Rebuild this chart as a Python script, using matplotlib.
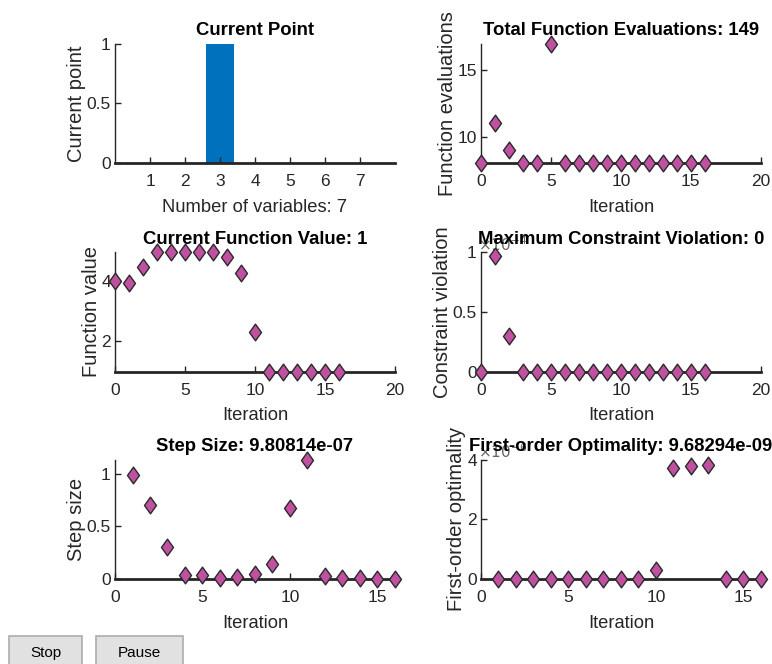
import matplotlib
matplotlib.use("Agg")
import matplotlib.pyplot as plt
import numpy as np
from matplotlib.path import Path
from matplotlib.patches import Rectangle

plt.rcParams['font.family'] = ['Liberation Sans', 'DejaVu Sans']

# current point (7 variables)
var_idx = [1, 2, 3, 4, 5, 6, 7]
current_point = [0, 0, 1, 0, 0, 0, 0]

# function evaluations per iteration
iters = list(range(0, 17))
fevals = [8, 11, 9, 8, 8, 17, 8, 8, 8, 8, 8, 8, 8, 8, 8, 8, 8]

# function value per iteration
fvals = [4.0, 3.94, 4.44, 4.94, 4.94, 4.94, 4.94, 4.94, 4.8, 4.27, 2.29,
         1, 1, 1, 1, 1, 1]

# max constraint violation
constr = [0, 0.972e-4, 0.296e-4, 0, 0, 0, 0, 0, 0, 0, 0, 0, 0, 0, 0, 0, 0]

# step size (from iteration 1)
step_iters = list(range(1, 17))
steps = [0.987, 0.70, 0.307, 0.038, 0.038, 0.006, 0.016, 0.044, 0.142,
         0.671, 1.13, 0.032, 0.013, 0.006, 0.001, 9.80814e-07]

# first-order optimality (from iteration 1)
opt_iters = list(range(1, 17))
optim = [0, 0, 0, 0, 0, 0, 0, 0, 0, 0.30e-6, 3.74e-6, 3.78e-6, 3.83e-6,
         0, 0, 9.68294e-09]

dark = '#262626'
pink = '#C050A0'
diamond = Path([(0, 1), (0.72, 0), (0, -1), (-0.72, 0), (0, 1)],
               [Path.MOVETO, Path.LINETO, Path.LINETO, Path.LINETO, Path.CLOSEPOLY])

fig = plt.figure(figsize=(7.72, 6.64), dpi=100)

lefts = [0.149, 0.623]
bottoms = [0.7545, 0.4405, 0.128]
w, h = 0.3625, 0.1795


def style(ax):
    ax.spines['top'].set_visible(False)
    ax.spines['right'].set_visible(False)
    ax.spines['left'].set_linewidth(1.0)
    ax.spines['bottom'].set_linewidth(2.0)
    ax.spines['left'].set_color(dark)
    ax.spines['bottom'].set_color(dark)
    ax.tick_params(direction='in', length=4, width=1, colors=dark, labelsize=12.5)
    ax.tick_params(axis='x', pad=8)
    ax.tick_params(axis='y', pad=3)
    ax.set_facecolor('none')


def markers(ax, x, y):
    ax.plot(x, y, linestyle='none', marker=diamond, markersize=12,
            markerfacecolor=pink, markeredgecolor='#2a2a2a',
            markeredgewidth=1.0, clip_on=False, zorder=5)


def labels(ax, title, xlabel, ylabel):
    ax.set_title(title, fontsize=13.3, fontweight='bold', color='black', pad=6)
    ax.set_xlabel(xlabel, fontsize=13.2, color=dark, labelpad=7)
    ax.set_ylabel(ylabel, fontsize=14.5, color=dark, labelpad=0.5)


def exponent(ax, power):
    ax.text(-0.01, 0.99, r'$\times10^{%d}$' % power, transform=ax.transAxes,
            ha='left', va='bottom', fontsize=11, color='#666666', zorder=0)


# Current Point
ax1 = fig.add_axes([lefts[0], bottoms[0], w, h])
style(ax1)
ax1.bar(var_idx, current_point, width=0.8, color='#0072BD')
ax1.set_xlim(0, 8)
ax1.set_ylim(0, 1)
ax1.set_xticks(var_idx)
ax1.set_yticks([0, 0.5, 1])
ax1.set_yticklabels(['0', '0.5', '1'])
labels(ax1, 'Current Point', 'Number of variables: 7', 'Current point')

# Total Function Evaluations
ax2 = fig.add_axes([lefts[1], bottoms[0], w, h])
style(ax2)
markers(ax2, iters, fevals)
ax2.set_xlim(0, 20)
ax2.set_ylim(8, 17)
ax2.set_xticks([0, 5, 10, 15, 20])
ax2.set_yticks([10, 15])
labels(ax2, 'Total Function Evaluations: 149', 'Iteration', 'Function evaluations')

# Current Function Value
ax3 = fig.add_axes([lefts[0], bottoms[1], w, h])
style(ax3)
markers(ax3, iters, fvals)
ax3.set_xlim(0, 20)
ax3.set_ylim(1, max(fvals))
ax3.set_xticks([0, 5, 10, 15, 20])
ax3.set_yticks([2, 4])
labels(ax3, 'Current Function Value: 1', 'Iteration', 'Function value')

# Maximum Constraint Violation
ax4 = fig.add_axes([lefts[1], bottoms[1], w, h])
style(ax4)
markers(ax4, iters, constr)
ax4.set_xlim(0, 20)
ax4.set_ylim(0, 1e-4)
ax4.set_xticks([0, 5, 10, 15, 20])
ax4.set_yticks([0, 0.5e-4, 1e-4])
ax4.set_yticklabels(['0', '0.5', '1'])
exponent(ax4, -4)
labels(ax4, 'Maximum Constraint Violation: 0', 'Iteration', 'Constraint violation')

# Step Size
ax5 = fig.add_axes([lefts[0], bottoms[2], w, h])
style(ax5)
markers(ax5, step_iters, steps)
ax5.set_xlim(0, 16)
ax5.set_ylim(0, max(steps))
ax5.set_xticks([0, 5, 10, 15])
ax5.set_yticks([0, 0.5, 1])
ax5.set_yticklabels(['0', '0.5', '1'])
labels(ax5, 'Step Size: 9.80814e-07', 'Iteration', 'Step size')

# First-order Optimality
ax6 = fig.add_axes([lefts[1], bottoms[2], w, h])
style(ax6)
markers(ax6, opt_iters, optim)
ax6.set_xlim(0, 16)
ax6.set_ylim(0, 4e-6)
ax6.set_xticks([0, 5, 10, 15])
ax6.set_yticks([0, 2e-6, 4e-6])
ax6.set_yticklabels(['0', '2', '4'])
exponent(ax6, -6)
labels(ax6, 'First-order Optimality: 9.68294e-09', 'Iteration', 'First-order optimality')

# Stop / Pause buttons
for x0, x1, txt in [(9, 82, 'Stop'), (96, 183, 'Pause')]:
    fx, fw = x0 / 772, (x1 - x0) / 772
    fh = (664 - 636) / 664
    fig.patches.append(Rectangle((fx, -0.01), fw, fh + 0.01, transform=fig.transFigure,
                                 facecolor='#E1E1E1', edgecolor='#ADADAD', linewidth=1.2))
    fig.text(fx + fw / 2, (664 - 653) / 664, txt, ha='center', va='center',
             fontsize=11, color='black')

fig.savefig('out.png', dpi=100)
